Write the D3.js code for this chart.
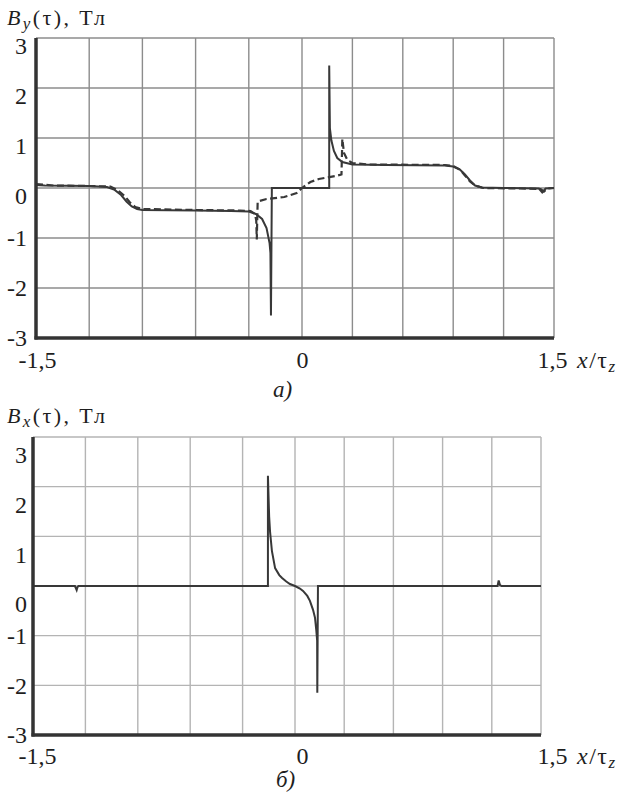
<!DOCTYPE html>
<head>
  <meta charset="utf-8">
  <script src="https://d3js.org/d3.v7.min.js"></script>
  <style>
    body { margin: 0; background: #fff; }
    svg text { font-family: "Liberation Serif", "Times New Roman", Times, serif; fill: #1e1e1e; }
    .grid line { stroke: #8c8c8c; stroke-width: 1.4px; }
    .grid-b line { stroke: #b4b4b4; stroke-width: 1.4px; }
    .frame { stroke: #333; stroke-width: 3.5px; }
    .axis path { display: none; }
    .axis text { font-size: 24px; fill: #1e1e1e; }
    .solid { fill: none; stroke: #383838; stroke-width: 2px; }
    .dashed { fill: none; stroke: #383838; stroke-width: 2.2px; stroke-dasharray: 7, 3.5; }
  </style>
</head>
<body>
<script>
  // grid positions (x in units of tau_z, y in Tesla)
  var gridX = [-1.5, -1.2, -0.9, -0.6, -0.3, 0, 0.3, 0.6, 0.9, 1.2, 1.5];
  var gridY = [-3, -2, -1, 0, 1, 2, 3];
  var xTickValues = [-1.5, 0, 1.5];

  // a) B_y, solid curve
  var bySolid = [
    [-1.5, 0.06], [-1.45, 0.05], [-1.2, 0.04], [-1.1, 0.02], [-1.06, -0.03],
    [-1.02, -0.14], [-0.99, -0.27], [-0.96, -0.37], [-0.93, -0.42], [-0.9, -0.44],
    [-0.6, -0.45], [-0.4, -0.46], [-0.3, -0.47], [-0.26, -0.52], [-0.225, -0.62],
    [-0.2, -0.8], [-0.183, -1.1], [-0.178, -1.3], [-0.175, -2.55], [-0.17, 0],
    [0.162, 0], [0.162, 2.45], [0.166, 1.2], [0.175, 0.95], [0.19, 0.74],
    [0.21, 0.6], [0.24, 0.52], [0.3, 0.47], [0.5, 0.46], [0.85, 0.45],
    [0.9, 0.43], [0.94, 0.37], [0.97, 0.27], [1.0, 0.15], [1.03, 0.05],
    [1.07, 0.01], [1.2, 0.0], [1.41, -0.01], [1.43, -0.09], [1.45, -0.01], [1.5, 0.0]
  ];

  // a) B_y, dashed curve
  var byDashed = [
    [-1.5, 0.08], [-1.4, 0.05], [-1.2, 0.04], [-1.08, 0.03], [-1.04, -0.04],
    [-1.0, -0.16], [-0.97, -0.29], [-0.94, -0.38], [-0.9, -0.42], [-0.6, -0.44],
    [-0.35, -0.45], [-0.29, -0.46], [-0.265, -0.52], [-0.258, -0.65], [-0.255, -1.03],
    [-0.25, -0.27], [-0.2, -0.22], [-0.1, -0.18], [-0.03, -0.1], [0.0, 0.0],
    [0.05, 0.12], [0.1, 0.18], [0.2, 0.24], [0.235, 0.27], [0.24, 0.98],
    [0.25, 0.7], [0.27, 0.56], [0.3, 0.5], [0.4, 0.47], [0.85, 0.46],
    [0.9, 0.44], [0.94, 0.37], [0.97, 0.25], [1.0, 0.13], [1.03, 0.05],
    [1.08, 0.0], [1.3, -0.01], [1.42, -0.02], [1.44, -0.07], [1.46, -0.01], [1.5, 0.0]
  ];

  // б) B_x, solid curve
  var bxSolid = [
    [-1.5, 0.0], [-1.26, 0.0], [-1.25, -0.08], [-1.245, -0.02], [-1.24, 0.0],
    [-0.155, 0.0], [-0.155, 2.22], [-0.148, 1.4], [-0.143, 1.1], [-0.132, 0.7],
    [-0.114, 0.36], [-0.09, 0.22], [-0.074, 0.16], [-0.05, 0.09], [-0.029, 0.04],
    [0.0, 0.0], [0.03, -0.05], [0.049, -0.1], [0.075, -0.2], [0.091, -0.3],
    [0.11, -0.48], [0.122, -0.64], [0.13, -0.9], [0.135, -1.1], [0.136, -2.15],
    [0.14, 0.0], [1.235, 0.0], [1.242, 0.11], [1.25, 0.02], [1.26, 0.0], [1.5, 0.0]
  ];

  var serif = "'Liberation Serif', 'Times New Roman', Times, serif";

  var svg = d3.select("body").append("svg")
    .attr("width", 625)
    .attr("height", 792)
    .attr("font-family", serif);

  var fmt = function(d) { return String(d).replace(".", ","); };

  // tick labels of both panels sit at the same spots
  var xLabel = d3.scaleLinear().domain([-1.5, 0, 1.5]).range([37, 302, 552]);

  function panel(o) {
    var x = d3.scaleLinear().domain([-1.5, 0, 1.5]).range(o.xr);
    var y = d3.scaleLinear().domain([-3, 3]).range(o.yr);
    var g = svg.append("g");

    var grid = g.append("g").attr("class", o.gridClass);
    grid.selectAll(".v").data(gridX).enter().append("line")
      .attr("x1", x).attr("x2", x)
      .attr("y1", y(3)).attr("y2", y(-3));
    grid.selectAll(".h").data(gridY).enter().append("line")
      .attr("x1", x(-1.5)).attr("x2", x(1.5))
      .attr("y1", y).attr("y2", y);

    var line = d3.line()
      .x(function(d) { return x(d[0]); })
      .y(function(d) { return y(d[1]); });

    o.series.forEach(function(s) {
      g.append("path").datum(s.data).attr("class", s.cls).attr("d", line);
    });

    // thick left and bottom axis
    g.append("line").attr("class", "frame")
      .attr("x1", x(-1.5)).attr("x2", x(-1.5))
      .attr("y1", y(3)).attr("y2", y(-3) + 1.5);
    g.append("line").attr("class", "frame")
      .attr("x1", x(-1.5) - 1.5).attr("x2", x(1.5))
      .attr("y1", y(-3)).attr("y2", y(-3));

    var yAxis = g.append("g")
      .attr("class", "axis")
      .attr("transform", "translate(" + x(-1.5) + ",0)")
      .call(d3.axisLeft(y).tickValues(gridY).tickSize(0).tickPadding(o.pad).tickFormat(fmt));
    yAxis.attr("font-family", null).attr("font-size", null);
    yAxis.selectAll(".tick text")
      .attr("dy", function(d) { return (d >= 0 ? 0.32 + o.shift / 24 : 0.32) + "em"; });

    var xAxis = g.append("g")
      .attr("class", "axis")
      .attr("transform", "translate(0," + o.labelY + ")")
      .call(d3.axisBottom(xLabel).tickValues(xTickValues).tickSize(0).tickPadding(0).tickFormat(fmt));
    xAxis.attr("font-family", null).attr("font-size", null);
    xAxis.selectAll(".tick text").attr("dy", "0");

    var xt = g.append("text")
      .attr("x", xLabel(1.5) + 25)
      .attr("y", o.labelY)
      .style("font-size", "24px")
      .style("letter-spacing", "1.5px");
    xt.append("tspan").style("font-style", "italic").text("x");
    xt.append("tspan").text("/τ");
    xt.append("tspan").style("font-style", "italic").style("font-size", "17px")
      .attr("dy", 4).text("z");

    var title = g.append("text")
      .attr("x", 7)
      .attr("y", o.titleY)
      .style("font-size", "22px")
      .style("letter-spacing", "2.4px");
    title.append("tspan").style("font-style", "italic").text("B");
    title.append("tspan").style("font-style", "italic").style("font-size", "17px")
      .attr("dy", 4).text(o.sub);
    title.append("tspan").attr("dy", -4).text("(τ), Тл");

    g.append("text")
      .attr("x", o.capX)
      .attr("y", o.capY)
      .style("font-size", "23px")
      .style("font-style", "italic")
      .text(o.cap);
  }

  panel({
    xr: [36, 302, 554], yr: [338, 38], gridClass: "grid",
    series: [{ data: byDashed, cls: "dashed" }, { data: bySolid, cls: "solid" }],
    pad: 9, shift: 8, labelY: 368, titleY: 25, sub: "y",
    cap: "а)", capX: 273, capY: 397
  });

  panel({
    xr: [33, 295, 541], yr: [735, 437], gridClass: "grid-b",
    series: [{ data: bxSolid, cls: "solid" }],
    pad: 6, shift: 18, labelY: 764, titleY: 423, sub: "x",
    cap: "б)", capX: 276, capY: 787
  });
</script>
</body>
